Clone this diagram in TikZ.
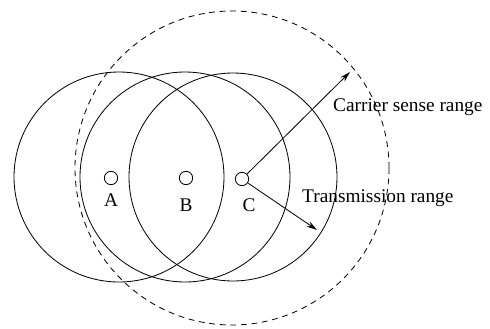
\documentclass[tikz,border=0pt]{standalone}
\usepackage{fontspec}
\setmainfont{Liberation Serif}
\usepackage{tikz}
\usetikzlibrary{arrows.meta}

\begin{document}
\begin{tikzpicture}[x=0.03cm,y=-0.03cm,
  station/.style={draw,circle,line width=0.7pt,inner sep=0pt,minimum size=0.4cm},
  rangeline/.style={line width=0.7pt},
  rangearrow/.style={line width=0.7pt,-{Stealth[length=9pt,width=5pt]}},
  tag/.style={font=\fontsize{16.5}{19}\selectfont,inner sep=0pt}]
\useasboundingbox (0,0) rectangle (490,329);
% transmission ranges
\draw[rangeline] (119,177) circle (105);
\draw[rangeline] (185,177) circle (105);
\draw[rangeline] (233,177) circle (104);
% carrier sense range
\draw[rangeline,dashed,dash pattern=on 5pt off 4pt] (232,168) circle (157);
% stations
\node[station] (A) at (111,178) {};
\node[station] (B) at (186,178) {};
\node[station] (C) at (242,179) {};
\node[tag] (labA) at (111,200) {A};
\node[tag] (labB) at (186,205) {B};
\node[tag] (labC) at (249,205) {C};
% arrows
\coordinate (cs) at (350,72);
\coordinate (tx) at (317,230);
\draw[rangearrow] (C) -- (cs);
\draw[rangearrow] (C) -- (tx);
\node[tag,anchor=west] (csl) at (333,107) {Carrier sense range};
\node[tag,anchor=west] (txl) at (302,198) {Transmission range};
\end{tikzpicture}
\end{document}
